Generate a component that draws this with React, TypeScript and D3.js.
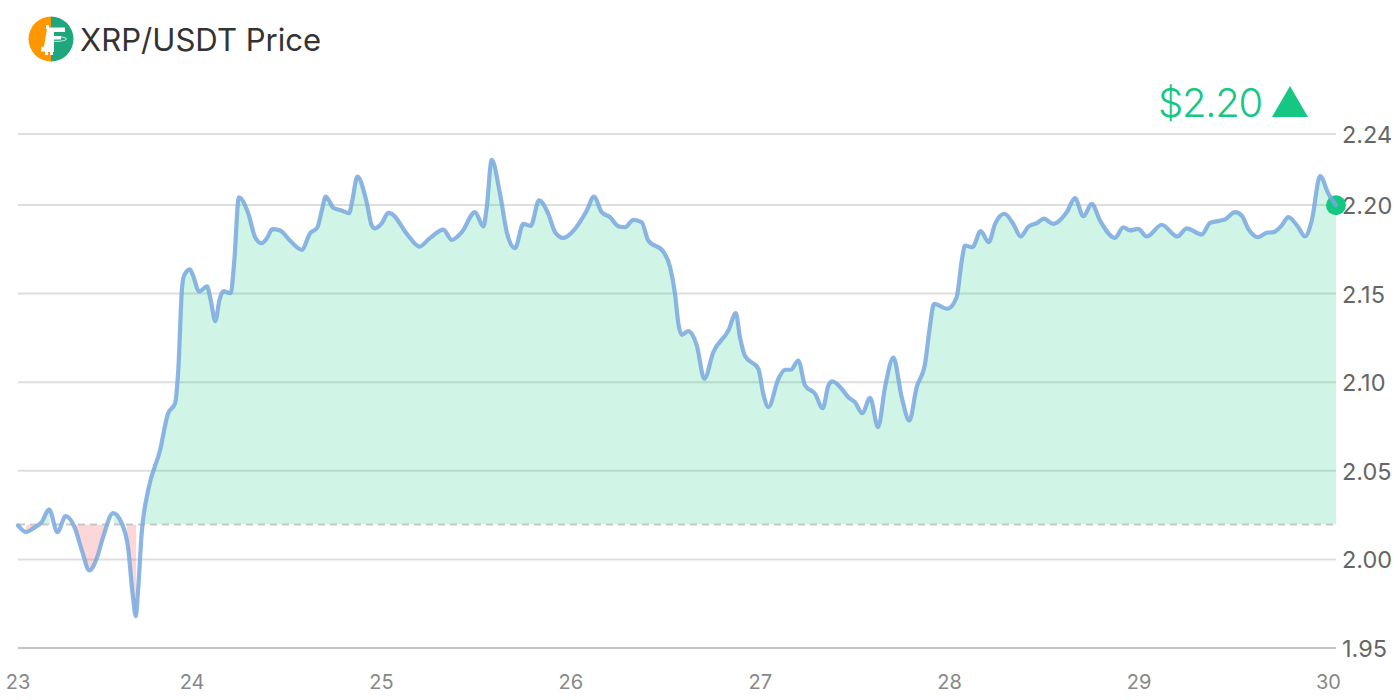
import React from "react";
import * as d3 from "d3";

const days = [23.081,23.124,23.161,23.206,23.245,23.289,23.333,23.382,23.418,23.458,23.497,23.53,23.583,23.629,23.662,23.688,23.703,23.715,23.734,23.768,23.831,23.873,23.91,23.928,23.946,23.958,23.989,24.005,24.037,24.079,24.099,24.123,24.144,24.165,24.204,24.223,24.247,24.297,24.333,24.368,24.394,24.424,24.465,24.517,24.579,24.623,24.662,24.685,24.706,24.746,24.79,24.829,24.846,24.873,24.922,24.949,24.966,25.002,25.036,25.054,25.134,25.2,25.257,25.327,25.371,25.424,25.494,25.538,25.556,25.582,25.626,25.662,25.705,25.749,25.788,25.832,25.881,25.917,25.96,26.022,26.084,26.122,26.163,26.207,26.251,26.286,26.33,26.374,26.409,26.488,26.524,26.55,26.568,26.586,26.62,26.665,26.705,26.752,26.832,26.871,26.893,26.92,26.99,27.016,27.043,27.096,27.131,27.161,27.201,27.237,27.289,27.33,27.36,27.381,27.43,27.465,27.5,27.539,27.58,27.622,27.659,27.703,27.747,27.787,27.826,27.87,27.893,27.918,27.988,28.037,28.064,28.081,28.12,28.164,28.206,28.24,28.289,28.336,28.375,28.416,28.46,28.498,28.547,28.618,28.662,28.706,28.75,28.794,28.873,28.917,28.952,28.996,29.041,29.12,29.202,29.252,29.331,29.375,29.454,29.507,29.542,29.577,29.63,29.674,29.709,29.753,29.788,29.841,29.876,29.912,29.956,30.0,30.04];
const prices = [2.0192,2.0154,2.0175,2.021,2.0282,2.0154,2.0244,2.0175,2.0051,1.9938,2.0006,2.0124,2.0261,2.0203,2.0068,1.9786,1.9679,1.9825,2.0147,2.0389,2.0615,2.0823,2.088,2.1083,2.1517,2.1602,2.1636,2.1602,2.1512,2.154,2.1461,2.1344,2.1461,2.1513,2.1502,2.1686,2.2043,2.1951,2.1818,2.1784,2.181,2.1863,2.1856,2.1799,2.1747,2.184,2.1874,2.1968,2.2047,2.1984,2.1968,2.1953,2.2025,2.216,2.2015,2.1884,2.1868,2.1897,2.1955,2.195,2.1837,2.1765,2.1814,2.186,2.1803,2.1846,2.1959,2.1878,2.1987,2.2254,2.2063,2.1846,2.1756,2.1893,2.1882,2.2025,2.195,2.1846,2.1814,2.1865,2.1968,2.2047,2.1959,2.1931,2.188,2.1874,2.1916,2.1902,2.1799,2.1737,2.1649,2.1499,2.1329,2.1267,2.1288,2.1207,2.1019,2.1169,2.1292,2.1389,2.1254,2.1147,2.1076,2.0935,2.0859,2.1019,2.107,2.107,2.1122,2.0981,2.0935,2.0853,2.0981,2.1004,2.0963,2.0915,2.0887,2.0825,2.0912,2.0746,2.0972,2.1138,2.0915,2.0784,2.0972,2.1104,2.1292,2.1442,2.1414,2.1479,2.1686,2.1771,2.1761,2.1852,2.179,2.1893,2.195,2.1893,2.1822,2.1878,2.1897,2.1922,2.1893,2.1959,2.2038,2.1936,2.2006,2.1912,2.1814,2.1874,2.1856,2.1865,2.1822,2.1888,2.1822,2.1868,2.1833,2.1899,2.1918,2.1959,2.194,2.1865,2.1818,2.1843,2.1846,2.1884,2.1931,2.1874,2.1822,2.1912,2.2162,2.2063,2.1998];
const basePrice = 2.0197;
const yTicks = [1.95, 2.0, 2.05, 2.1, 2.15, 2.2, 2.24];
const xTicks = [23, 24, 25, 26, 27, 28, 29, 30];
const upSpans = [[23.207, 23.248], [23.586, 23.616], [23.752, 30.04]];
const downSpans = [[23.124, 23.185], [23.38, 23.555], [23.656, 23.705]];

const GREEN = "#16c784";
const FONT = "Inter, 'Noto Sans', sans-serif";

export default function App() {
  const x = d3.scaleLinear().domain([days[0], days[days.length - 1]]).range([18, 1336]);
  const y = d3.scaleLinear().domain([1.95, 2.24]).range([648, 134]);
  const pts = days.map((d, i) => [d, prices[i]] as [number, number]);
  const line = d3.line<[number, number]>().x((d) => x(d[0])).y((d) => y(d[1])).curve(d3.curveMonotoneX);
  const area = d3.area<[number, number]>().x((d) => x(d[0])).y0(y(basePrice)).y1((d) => y(d[1])).curve(d3.curveMonotoneX);
  const by = y(basePrice);
  const last = pts[pts.length - 1];
  return (
    <svg width={1400} height={700} style={{ position: "absolute", left: 0, top: 0, background: "#fff" }} fontFamily={FONT}>
      <defs>
        <clipPath id="up">
          {upSpans.map((s, i) => (
            <rect key={i} x={x(s[0])} width={x(s[1]) - x(s[0])} y={0} height={by} />
          ))}
        </clipPath>
        <clipPath id="down">
          {downSpans.map((s, i) => (
            <rect key={i} x={x(s[0])} width={x(s[1]) - x(s[0])} y={by} height={700 - by} />
          ))}
        </clipPath>
      </defs>

      {yTicks.map((t) => (
        <g key={t}>
          <line x1={18} x2={1336} y1={y(t)} y2={y(t)} stroke={t === 1.95 ? "#c4c4c4" : "#dedede"} strokeWidth={2} />
          <text x={1342} y={y(t) + 9} fontSize={23.5} fill="#666">{t.toFixed(2)}</text>
        </g>
      ))}
      {xTicks.map((t) => (
        <text key={t} x={Math.max(x(t), 18)} y={689} fontSize={20} fill="#888" textAnchor="middle">{t}</text>
      ))}

      <path d={area(pts) ?? ""} fill={GREEN} fillOpacity={0.2} clipPath="url(#up)" />
      <path d={area(pts) ?? ""} fill="#ea3943" fillOpacity={0.2} clipPath="url(#down)" />
      <line x1={18} x2={1336} y1={by} y2={by} stroke="#c8c8c8" strokeWidth={2} strokeDasharray="7 5" />

      <circle cx={x(last[0])} cy={y(last[1])} r={10} fill={GREEN} />
      <path d={line(pts) ?? ""} fill="none" stroke="#78a8de" strokeOpacity={0.85} strokeWidth={4.2} strokeLinejoin="round" strokeLinecap="round" />

      <text x={80} y={51} fontSize={31.1} fill="#333">XRP/USDT Price</text>
      <text x={1158} y={117} fontSize={40} fontWeight={300} letterSpacing={-1.3} fill={GREEN}>$2.20</text>
      <path d="M1290 86L1308 117L1272 117Z" fill={GREEN} />

      <path d="M51 16.5A22.5 22.5 0 0 0 51 61.5Z" fill="#ff9800" />
      <path d="M51 16.5A22.5 22.5 0 0 1 51 61.5Z" fill="#1ea67c" />
      <path d="M46 25H49V27.5H65V32H54V36H61V39.5H54V52H53V55H50V52H48V55H45V51.5H41L41.5 47L44 46.5L47 29H46Z" fill="#fff" />
      <ellipse cx={56} cy={39} rx={10.5} ry={2.4} fill="none" stroke="#fff" strokeWidth={0.8} />
    </svg>
  );
}
